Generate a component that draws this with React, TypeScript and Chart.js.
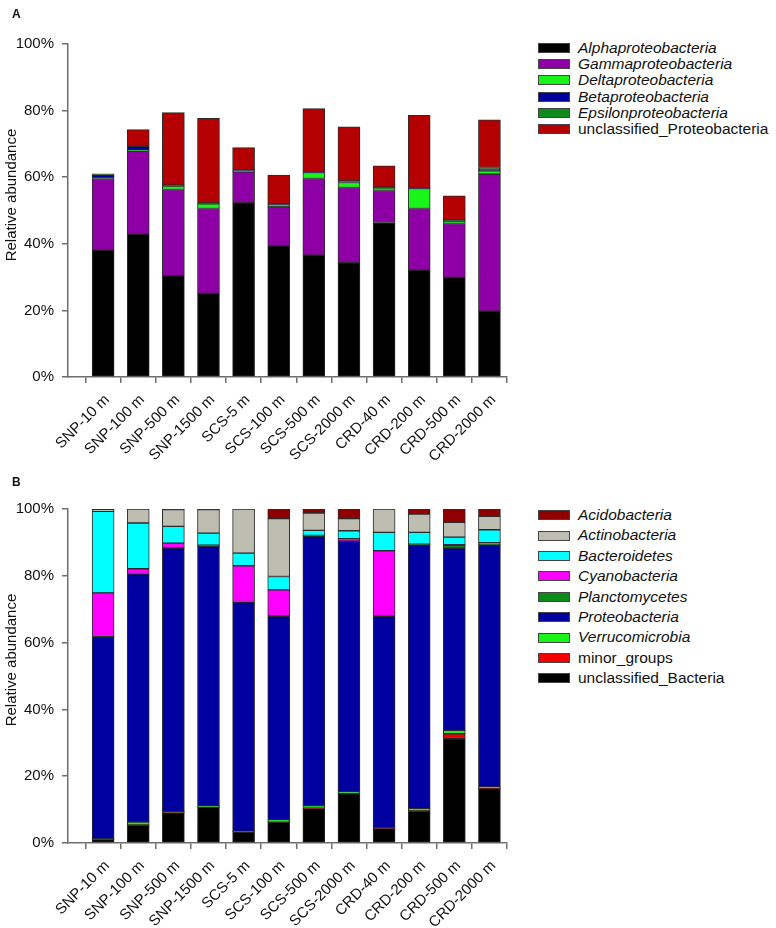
import React, { useEffect, useRef } from "react";
import { Chart, registerables } from "chart.js";

Chart.register(...registerables);

const FONT = "'Liberation Sans', Arial, Helvetica, sans-serif";
const AXIS = "#6e6e6e";

// Categories
const sites = [
  "SNP-10 m", "SNP-100 m", "SNP-500 m", "SNP-1500 m",
  "SCS-5 m", "SCS-100 m", "SCS-500 m", "SCS-2000 m",
  "CRD-40 m", "CRD-200 m", "CRD-500 m", "CRD-2000 m",
];

const yTicks = [0, 20, 40, 60, 80, 100];

// Panel A (% relative abundance, stacked bottom -> top)
const alphaproteobacteria = [38.1, 42.9, 30.4, 25.1, 52.3, 39.4, 36.6, 34.3, 46.4, 32.1, 29.9, 19.8];
const gammaproteobacteria = [21.5, 25.0, 25.9, 25.5, 9.3, 11.7, 23.0, 22.6, 9.6, 18.5, 16.2, 41.1];
const deltaproteobacteria = [0.2, 0.2, 1.0, 1.4, 0.2, 0.7, 1.8, 1.5, 0.8, 6.0, 0.7, 1.0];
const betaproteobacteria = [0.9, 1.2, 0.1, 0.1, 0.2, 0.1, 0.1, 0.3, 0.1, 0.1, 0.1, 0.6];
const epsilonproteobacteria = [0.1, 0.1, 0.2, 0.2, 0.1, 0.1, 0.1, 0.2, 0.1, 0.1, 0.2, 0.4];
const unclassifiedProteobacteria = [0.2, 4.9, 21.8, 25.4, 6.8, 8.6, 19.0, 16.2, 6.4, 21.8, 7.3, 14.3];

// Panel B (% relative abundance, stacked bottom -> top)
const unclassifiedBacteria = [1.0, 5.3, 9.0, 10.7, 3.3, 6.2, 10.3, 14.7, 4.3, 9.5, 31.2, 16.2];
const minorGroups = [0.1, 0.1, 0.1, 0.1, 0.1, 0.4, 0.1, 0.1, 0.1, 0.1, 1.5, 0.1];
const verrucomicrobia = [0.1, 0.9, 0.2, 0.2, 0.1, 0.2, 0.8, 0.5, 0.1, 0.7, 1.0, 0.5];
const proteobacteria = [60.5, 74.3, 79.0, 77.8, 68.6, 61.1, 80.6, 75.0, 63.4, 79.0, 54.6, 72.5];
const planctomycetes = [0.1, 0.1, 0.1, 0.3, 0.2, 0.1, 0.2, 0.1, 0.0, 0.1, 0.8, 0.1];
const cyanobacteria = [13.1, 1.4, 1.4, 0.1, 10.7, 7.8, 0.1, 0.7, 19.6, 0.1, 0.2, 0.5];
const bacteroidetes = [24.4, 13.7, 5.0, 3.6, 3.8, 4.0, 1.5, 2.4, 5.5, 3.5, 2.3, 3.9];
const actinobacteria = [0.6, 4.2, 5.0, 7.0, 13.2, 17.3, 5.2, 3.6, 7.0, 5.5, 4.4, 4.0];
const acidobacteria = [0.1, 0.0, 0.2, 0.2, 0.0, 2.9, 1.2, 2.9, 0.0, 1.5, 4.0, 2.2];

type Series = { label: string; values: number[]; color: string; italic: boolean };

const seriesA: Series[] = [
  { label: "Alphaproteobacteria", values: alphaproteobacteria, color: "#000000", italic: true },
  { label: "Gammaproteobacteria", values: gammaproteobacteria, color: "#8e00a6", italic: true },
  { label: "Deltaproteobacteria", values: deltaproteobacteria, color: "#19f419", italic: true },
  { label: "Betaproteobacteria", values: betaproteobacteria, color: "#00009c", italic: true },
  { label: "Epsilonproteobacteria", values: epsilonproteobacteria, color: "#0c8a1a", italic: true },
  { label: "unclassified_Proteobacteria", values: unclassifiedProteobacteria, color: "#b40000", italic: false },
];

const seriesB: Series[] = [
  { label: "unclassified_Bacteria", values: unclassifiedBacteria, color: "#000000", italic: false },
  { label: "minor_groups", values: minorGroups, color: "#f40000", italic: false },
  { label: "Verrucomicrobia", values: verrucomicrobia, color: "#19f419", italic: true },
  { label: "Proteobacteria", values: proteobacteria, color: "#0000a0", italic: true },
  { label: "Planctomycetes", values: planctomycetes, color: "#0c8a1a", italic: true },
  { label: "Cyanobacteria", values: cyanobacteria, color: "#ff00ff", italic: true },
  { label: "Bacteroidetes", values: bacteroidetes, color: "#00ffff", italic: true },
  { label: "Actinobacteria", values: actinobacteria, color: "#bebdb2", italic: true },
  { label: "Acidobacteria", values: acidobacteria, color: "#900000", italic: true },
];

type PanelProps = {
  series: Series[];
  top: number;
  height: number;
  padTop: number;
  xAxisH: number;
};

function StackPanel({ series, top, height, padTop, xAxisH }: PanelProps) {
  const ref = useRef<HTMLCanvasElement | null>(null);
  useEffect(() => {
    if (!ref.current) return;
    const chart = new Chart(ref.current, {
      type: "bar",
      data: {
        datasets: series.map((s) => ({
          label: s.label,
          data: s.values.map((v, i) => ({ x: i, y: v })),
          backgroundColor: s.color,
          borderColor: "#2b2b2b",
          borderWidth: 1,
          borderSkipped: false,
          barThickness: 22,
          stack: "all",
        })),
      },
      options: {
        animation: false,
        responsive: false,
        devicePixelRatio: 1,
        layout: { padding: { top: padTop, right: 23, left: 0, bottom: 0 } },
        plugins: { legend: { display: false }, tooltip: { enabled: false } },
        scales: {
          x: {
            type: "linear",
            stacked: true,
            min: -1,
            max: 11.5,
            bounds: "data",
            offset: false,
            afterBuildTicks: (s: any) => {
              s.ticks = sites.map((_, i) => ({ value: i }));
            },
            afterFit: (s: any) => {
              s.height = xAxisH;
            },
            ticks: {
              autoSkip: false,
              maxRotation: 45,
              minRotation: 45,
              padding: 8,
              labelOffset: 4,
              color: "#111",
              font: { family: FONT, size: 15 },
              callback: (v: any) => sites[v as number] ?? "",
            },
            grid: { drawOnChartArea: false, drawTicks: true, tickLength: 6, color: AXIS, lineWidth: 1.5 },
            border: { color: AXIS, width: 1.5 },
          },
          y: {
            stacked: true,
            min: 0,
            max: 100,
            afterBuildTicks: (s: any) => {
              s.ticks = yTicks.map((v) => ({ value: v }));
            },
            afterFit: (s: any) => {
              s.width = 68;
            },
            ticks: {
              padding: 8,
              color: "#111",
              font: { family: FONT, size: 15 },
              callback: (v: any) => `${v}%`,
            },
            grid: { drawOnChartArea: false, drawTicks: true, tickLength: 6, color: AXIS, lineWidth: 1.5 },
            border: { color: AXIS, width: 1.5 },
          },
        },
      } as any,
    });
    return () => chart.destroy();
  }, [series, padTop, xAxisH]);
  return (
    <canvas
      ref={ref}
      width={530}
      height={height}
      style={{ position: "absolute", left: 0, top, width: 530, height }}
    />
  );
}

function Legend({ items, top, rowH }: { items: Series[]; top: number; rowH: number }) {
  return (
    <div style={{ position: "absolute", left: 538, top }}>
      {items.map((s) => (
        <div
          key={s.label}
          style={{ height: rowH, display: "flex", alignItems: "center", whiteSpace: "nowrap" }}
        >
          <span
            style={{
              display: "inline-block",
              width: 30,
              height: 8,
              background: s.color,
              border: "1px solid #444",
              marginRight: 8,
            }}
          />
          <span
            style={{
              fontFamily: FONT,
              fontSize: 15.5,
              fontStyle: s.italic ? "italic" : "normal",
              color: "#111",
              lineHeight: `${rowH}px`,
            }}
          >
            {s.label}
          </span>
        </div>
      ))}
    </div>
  );
}

function YTitle({ centerY }: { centerY: number }) {
  return (
    <div
      style={{
        position: "absolute",
        left: 10,
        top: centerY,
        transform: "translate(-50%, -50%) rotate(-90deg)",
        fontFamily: FONT,
        fontSize: 15,
        color: "#111",
        whiteSpace: "nowrap",
        lineHeight: "15px",
      }}
    >
      Relative abundance
    </div>
  );
}

function PanelLetter({ text, top }: { text: string; top: number }) {
  return (
    <div
      style={{
        position: "absolute",
        left: 12,
        top,
        fontFamily: FONT,
        fontWeight: "bold",
        fontSize: 12,
        color: "#111",
        lineHeight: "12px",
      }}
    >
      {text}
    </div>
  );
}

export default function App() {
  const legendB = [...seriesB].reverse();
  return (
    <div style={{ position: "absolute", left: 0, top: 0, width: 770, height: 928, background: "#fff" }}>
      <StackPanel series={seriesA} top={0} height={470} padTop={44} xAxisH={93} />
      <StackPanel series={seriesB} top={470} height={458} padTop={39} xAxisH={85} />
      <PanelLetter text="A" top={8} />
      <PanelLetter text="B" top={476} />
      <YTitle centerY={195} />
      <YTitle centerY={660} />
      <Legend items={seriesA} top={40} rowH={16.2} />
      <Legend items={legendB} top={505} rowH={20.4} />
    </div>
  );
}
